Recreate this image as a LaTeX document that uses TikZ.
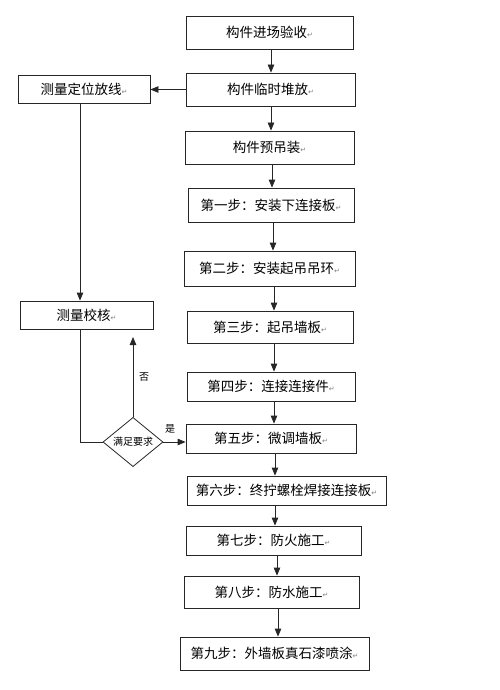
\documentclass[tikz,border=0pt]{standalone}
\usepackage{fontspec}
\setmainfont{Noto Sans CJK SC}
\newfontfamily\markfont{DejaVu Sans}
\usetikzlibrary{arrows.meta,shapes.geometric}
\newcommand{\ret}{{\markfont\fontsize{7}{7}\selectfont\textcolor{gray}{↵}}}
\begin{document}
\begin{tikzpicture}[x=1pt, y=-1pt, font=\fontsize{13.5}{16}\selectfont,
	box/.style={draw=black!85, line width=.8pt, inner sep=0pt},
	arr/.style={draw=black!85, line width=.8pt, -{Triangle[length=8pt,width=6.5pt]}},
	link/.style={draw=black!85, line width=.8pt},
	small/.style={font=\fontsize{10}{12}\selectfont}]
	\useasboundingbox (0,0) rectangle (500,690);
	%main boxes
	\node[box, minimum width=167pt, minimum height=33pt] (b1) at (269.5,32.5) {构件进场验收\ret};
	\node[box, minimum width=169pt, minimum height=33pt] (b2) at (270.5,89.5) {构件临时堆放\ret};
	\node[box, minimum width=169pt, minimum height=33pt] (b3) at (269.5,147.5) {构件预吊装\ret};
	\node[box, minimum width=166pt, minimum height=34pt] (b4) at (271,205) {第一步：安装下连接板\ret};
	\node[box, minimum width=171pt, minimum height=35pt] (b5) at (269.5,268.5) {第二步：安装起吊吊环\ret};
	\node[box, minimum width=166pt, minimum height=32pt] (b6) at (270,327) {第三步：起吊墙板\ret};
	\node[box, minimum width=168pt, minimum height=29pt] (b7) at (271,386.5) {第四步：连接连接件\ret};
	\node[box, minimum width=170pt, minimum height=29pt] (b8) at (271,438.5) {第五步：微调墙板\ret};
	\node[box, minimum width=199pt, minimum height=29pt] (b9) at (286.5,490.5) {第六步：终拧螺栓焊接连接板\ret};
	\node[box, minimum width=175pt, minimum height=29pt] (b10) at (273.5,540.5) {第七步：防火施工\ret};
	\node[box, minimum width=175pt, minimum height=32pt] (b11) at (271.5,592) {第八步：防水施工\ret};
	\node[box, minimum width=189pt, minimum height=33pt] (b12) at (274.5,653.5) {第九步：外墙板真石漆喷涂\ret};
	%left side
	\node[box, minimum width=132pt, minimum height=28pt] (l1) at (84,89) {测量定位放线\ret};
	\node[box, minimum width=133pt, minimum height=28pt] (l2) at (86.5,315) {测量校核\ret};
	\node[diamond, draw=black!85, line width=.8pt, small, inner sep=0pt,
		minimum width=60pt, minimum height=41pt] (chk) at (133,442) {满足要求};
	%main arrows
	\foreach \a/\b/\x in {b1/b2/271, b2/b3/271, b3/b4/272, b4/b5/273, b5/b6/274,
		b6/b7/274, b7/b8/274, b8/b9/275, b9/b10/275, b10/b11/277, b11/b12/278}
	{
		\path (\x,0) coordinate (t);
		\draw[arr] (\a.south -| t) -- (\b.north -| t);
	}
	%measuring loop
	\coordinate (lx) at (80,0);
	\coordinate (no) at (133,337);
	\draw[arr] (b2.west) -- (b2.west -| l1.east);
	\draw[arr] (l1.south -| lx) -- (l2.north -| lx);
	\draw[link] (l2.south -| lx) |- (chk.west);
	\draw[arr] (chk.north) -- (no);
	\draw[arr] (chk.east) -- (chk.east -| b8.west);
	%labels
	\node[small] (nolbl) at (144,377) {否};
	\node[small] (yeslbl) at (170,429) {是};
\end{tikzpicture}
\end{document}
